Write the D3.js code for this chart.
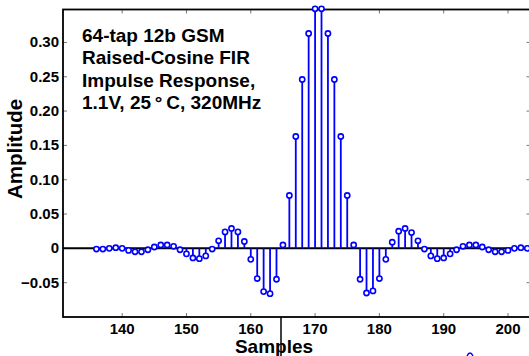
<!DOCTYPE html>
<html>
<head>
<meta charset="utf-8">
<script src="https://cdn.jsdelivr.net/npm/d3@7"></script>
<style>
  body { margin: 0; background: #fff; }
  svg { display: block; }
  text { font-family: "Liberation Sans", Arial, sans-serif; font-weight: bold; }
</style>
</head>
<body>
<div id="chart"></div>
<script>
// impulse response taps
const samples = [136, 137, 138, 139, 140, 141, 142, 143, 144, 145, 146, 147, 148, 149,
  150, 151, 152, 153, 154, 155, 156, 157, 158, 159, 160, 161, 162, 163, 164, 165, 166,
  167, 168, 169, 170, 171, 172, 173, 174, 175, 176, 177, 178, 179, 180, 181, 182, 183,
  184, 185, 186, 187, 188, 189, 190, 191, 192, 193, 194, 195, 196, 197, 198, 199, 200,
  201, 202, 203];
const amplitude = [-0.001, -0.001, 0.000, 0.001, 0.000, -0.003, -0.005, -0.005, -0.002,
  0.002, 0.005, 0.005, 0.003, -0.002, -0.008, -0.014, -0.015, -0.011, -0.001, 0.011,
  0.024, 0.029, 0.024, 0.010, -0.016, -0.044, -0.063, -0.066, -0.045, 0.005, 0.077,
  0.163, 0.246, 0.313, 0.349, 0.349, 0.313, 0.246, 0.163, 0.077, 0.005, -0.045, -0.065,
  -0.062, -0.044, -0.016, 0.009, 0.025, 0.029, 0.023, 0.011, -0.001, -0.011, -0.015,
  -0.014, -0.008, -0.002, 0.003, 0.005, 0.005, 0.002, -0.002, -0.005, -0.005, -0.003,
  0.000, 0.001, 0.000];
const xTicks = [140, 150, 160, 170, 180, 190, 200];
const yTicks = [-0.05, 0, 0.05, 0.10, 0.15, 0.20, 0.25, 0.30];
const titleLines = ['64-tap 12b GSM', 'Raised-Cosine FIR', 'Impulse Response,', '1.1V, 25\u2009\u00b0\u2009C, 320MHz'];

const width = 529, height = 356;
const plotLeft = 63, plotRight = 530.5, plotTop = 9.5, plotBottom = 317;

const svg = d3.select('#chart').append('svg')
  .attr('width', width)
  .attr('height', height);

const x = d3.scaleLinear().domain([130.8, 203.5]).range([plotLeft, plotRight]);
const y = d3.scaleLinear().domain([-0.1, 0.348]).range([plotBottom, plotTop]);

// tick marks (thin, inward) on all four sides
const tickColor = '#777';
svg.selectAll('.xt').data(xTicks).enter().append('line')
  .attr('x1', d => x(d)).attr('x2', d => x(d))
  .attr('y1', plotBottom).attr('y2', plotBottom - 4)
  .attr('stroke', tickColor).attr('stroke-width', 1);
svg.selectAll('.xtt').data(xTicks).enter().append('line')
  .attr('x1', d => x(d)).attr('x2', d => x(d))
  .attr('y1', plotTop).attr('y2', plotTop + 4)
  .attr('stroke', tickColor).attr('stroke-width', 1);
svg.selectAll('.yt').data(yTicks).enter().append('line')
  .attr('x1', plotLeft).attr('x2', plotLeft + 4)
  .attr('y1', d => y(d)).attr('y2', d => y(d))
  .attr('stroke', tickColor).attr('stroke-width', 1);
svg.selectAll('.ytr').data(yTicks).enter().append('line')
  .attr('x1', plotRight).attr('x2', plotRight - 4)
  .attr('y1', d => y(d)).attr('y2', d => y(d))
  .attr('stroke', tickColor).attr('stroke-width', 1);

// frame
svg.append('rect')
  .attr('x', plotLeft).attr('y', plotTop)
  .attr('width', plotRight - plotLeft).attr('height', plotBottom - plotTop)
  .attr('fill', 'none').attr('stroke', '#000').attr('stroke-width', 1.8);

// tick labels
svg.selectAll('.xl').data(xTicks).enter().append('text')
  .attr('x', d => x(d)).attr('y', 334)
  .attr('text-anchor', 'middle')
  .style('font-size', '15px')
  .text(d => d);
svg.selectAll('.yl').data(yTicks).enter().append('text')
  .attr('x', plotLeft - 4).attr('y', d => y(d) + 5)
  .attr('text-anchor', 'end')
  .style('font-size', '15px')
  .text(d => d === 0 ? '0' : d3.format('.2f')(d));

// zero baseline
svg.append('line')
  .attr('x1', plotLeft).attr('x2', plotRight)
  .attr('y1', y(0)).attr('y2', y(0))
  .attr('stroke', '#000').attr('stroke-width', 2);

// stems
const data = samples.map((s, i) => ({s: s, v: amplitude[i]}));
svg.selectAll('.stem').data(data).enter().append('line')
  .attr('x1', d => x(d.s)).attr('x2', d => x(d.s))
  .attr('y1', y(0)).attr('y2', d => y(d.v))
  .attr('stroke', '#0000ff').attr('stroke-width', 1.8);
svg.selectAll('.mark').data(data).enter().append('circle')
  .attr('cx', d => x(d.s)).attr('cy', d => y(d.v))
  .attr('r', 2.6)
  .attr('fill', '#fff')
  .attr('stroke', '#0000ff').attr('stroke-width', 1.6);

// annotation
svg.append('g').selectAll('text').data(titleLines).enter().append('text')
  .attr('x', 82).attr('y', (d, i) => 41.5 + i * 22.6)
  .style('font-size', '19px')
  .text(d => d);

// axis titles
svg.append('text')
  .attr('transform', 'translate(21.5,149) rotate(-90)')
  .attr('text-anchor', 'middle')
  .style('font-size', '20.5px')
  .text('Amplitude');
svg.append('text')
  .attr('x', 274).attr('y', 353)
  .attr('text-anchor', 'middle')
  .style('font-size', '19px')
  .text('Samples');

// stray marks from the neighbouring figure in the source scan
svg.append('line')
  .attr('x1', 281).attr('x2', 281).attr('y1', plotBottom).attr('y2', height)
  .attr('stroke', '#000').attr('stroke-width', 1.5);
svg.append('path')
  .attr('d', 'M467,356 Q470,350 473,356')
  .attr('fill', 'none').attr('stroke', '#0000ff').attr('stroke-width', 1.5);
</script>
</body>
</html>
